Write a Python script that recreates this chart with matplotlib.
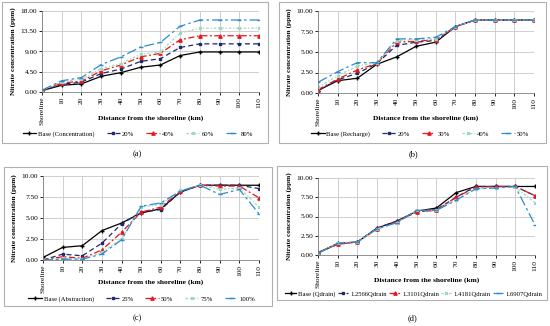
import matplotlib
matplotlib.use('Agg')
import matplotlib.pyplot as plt
from matplotlib.patches import Rectangle
from matplotlib.ticker import FormatStrFormatter

plt.rcParams['font.family'] = ['Liberation Serif', 'DejaVu Serif']

ticks = ['Shoreline', '10', '20', '30', '40', '50', '60', '70', '80', '90', '100', '110']

# (a) concentration
a_labels = ['Base (Concentration)', '20%', '40%', '60%', '80%']
a_base = [0.3, 1.5, 1.8, 3.5, 4.3, 5.5, 6.0, 8.1, 8.9, 8.9, 8.9, 8.9]
a_20 = [0.3, 1.7, 2.2, 4.1, 5.1, 6.8, 7.4, 9.9, 10.7, 10.7, 10.7, 10.7]
a_40 = [0.3, 2.0, 2.4, 4.7, 6.0, 7.8, 8.6, 11.6, 12.5, 12.5, 12.5, 12.5]
a_60 = [0.4, 2.3, 2.8, 5.2, 6.3, 8.4, 8.9, 13.1, 14.2, 14.2, 14.2, 14.2]
a_80 = [0.4, 2.5, 3.2, 6.1, 7.8, 10.0, 11.0, 14.6, 16.0, 16.0, 16.0, 16.0]

# (b) recharge
b_labels = ['Base (Recharge)', '20%', '30%', '40%', '50%']
b_base = [0.3, 1.5, 1.8, 3.5, 4.4, 5.7, 6.2, 8.1, 8.9, 8.9, 8.9, 8.9]
b_20 = [0.3, 1.6, 2.4, 3.6, 5.8, 6.2, 6.4, 8.1, 8.9, 8.9, 8.9, 8.9]
b_30 = [0.4, 1.7, 2.8, 3.6, 6.2, 6.3, 6.5, 8.1, 8.9, 8.9, 8.9, 8.9]
b_40 = [0.7, 2.1, 3.3, 3.7, 6.4, 6.5, 6.6, 8.1, 8.9, 8.9, 8.9, 8.9]
b_50 = [1.3, 2.6, 3.7, 3.7, 6.6, 6.6, 6.8, 8.1, 8.9, 8.9, 8.9, 8.9]

# (c) abstraction
c_labels = ['Base (Abstraction)', '25%', '50%', '75%', '100%']
c_base = [0.3, 1.5, 1.7, 3.5, 4.4, 5.6, 6.1, 8.1, 8.9, 8.9, 8.9, 8.9]
c_25 = [0.0, 0.7, 0.5, 2.0, 4.3, 5.7, 6.0, 8.1, 8.9, 8.9, 8.9, 8.5]
c_50 = [0.0, 0.4, 0.2, 1.2, 3.3, 5.7, 6.3, 8.2, 8.9, 8.8, 8.8, 7.4]
c_75 = [0.0, 0.2, 0.1, 0.9, 2.5, 6.3, 6.6, 8.3, 8.9, 8.4, 8.6, 6.3]
c_100 = [0.0, 0.1, 0.1, 0.7, 2.4, 6.4, 6.8, 8.2, 8.9, 7.8, 8.4, 5.5]

# (d) drain
d_labels = ['Base (Qdrain)', '1.2566Qdrain', '1.3101Qdrain', '1.4181Qdrain', '1.6907Qdrain']
d_base = [0.3, 1.5, 1.7, 3.5, 4.4, 5.7, 6.1, 8.1, 8.9, 8.9, 8.9, 8.9]
d_1 = [0.3, 1.4, 1.7, 3.5, 4.4, 5.6, 5.9, 7.5, 8.9, 8.9, 8.9, 7.7]
d_2 = [0.3, 1.4, 1.7, 3.4, 4.3, 5.6, 5.8, 7.5, 8.8, 8.9, 8.9, 7.7]
d_3 = [0.2, 1.6, 1.7, 3.4, 4.2, 5.8, 5.8, 7.2, 8.6, 8.7, 8.8, 6.8]
d_4 = [0.2, 1.5, 1.7, 3.4, 4.2, 5.8, 5.8, 7.1, 8.6, 8.7, 8.9, 3.9]

styles = [
    dict(color='black', ls='-', marker='+', ms=2.2, lw=0.9),
    dict(color='#1c2a6b', ls=(0, (4, 2.5)), marker='s', ms=1.8, lw=0.9),
    dict(color='#e8161b', ls=(0, (5, 2, 1.5, 2)), marker='^', ms=2.4, lw=0.9),
    dict(color='#9fd8bf', ls=(0, (2, 1.5, 1, 1.5)), marker='x', ms=2.0, lw=0.9),
    dict(color='#2b8ccf', ls=(0, (8, 2.5, 2, 2.5)), marker='_', ms=2.5, lw=0.9),
]

W, H = 550, 326
fig = plt.figure(figsize=(W / 100, H / 100), dpi=100)


def px_axes(l, r, t, b):
    return fig.add_axes([l / W, 1 - b / H, (r - l) / W, (b - t) / H])


def box(l, r, t, b):
    fig.patches.append(Rectangle((l / W, 1 - b / H), (r - l) / W, (b - t) / H,
                                 transform=fig.transFigure, fill=False,
                                 edgecolor='#b0b0b0', lw=0.8))


def panel(pos, series, labels, ymax, yticks, xlab_y, leg_xy, caption_xy, colsp, hl):
    ax = px_axes(*pos)
    x = list(range(len(ticks)))
    for s, lab, st in zip(series, labels, styles):
        ax.plot(x, s, label=lab, **st)
    ax.set_xlim(0, len(ticks) - 1)
    ax.set_ylim(0, ymax)
    ax.set_xticks(x)
    ax.set_xticklabels(ticks, rotation=90, fontsize=5.3)
    ax.set_yticks(yticks)
    ax.yaxis.set_major_formatter(FormatStrFormatter('%.2f'))
    ax.tick_params(axis='y', labelsize=5.3, length=2, width=0.6, pad=1.5)
    ax.tick_params(axis='x', length=2, width=0.6, pad=1.5)
    ax.grid(True, color='#c8c8c8', lw=0.6)
    for sp in ['top', 'right']:
        ax.spines[sp].set_visible(False)
    for sp in ['left', 'bottom']:
        ax.spines[sp].set_color('#808080')
        ax.spines[sp].set_linewidth(0.6)
    cx = (pos[0] + pos[1]) / 2
    fig.text(cx / W, 1 - xlab_y / H, 'Distance from the shoreline (km)',
             fontsize=5.4, fontweight='bold', ha='center', va='center')
    ax.set_ylabel('Nitrate concentration (ppm)', fontsize=5.2,
                  fontweight='bold', labelpad=3)
    fig.legend(*ax.get_legend_handles_labels(), loc='center',
               bbox_to_anchor=(leg_xy[0] / W, 1 - leg_xy[1] / H), ncol=5,
               frameon=False, fontsize=4.8, handlelength=hl,
               columnspacing=colsp, handletextpad=0.3, borderaxespad=0,
               borderpad=0)
    fig.text(caption_xy[0] / W, 1 - caption_xy[1] / H, caption_xy[2],
             fontsize=6, ha='center', va='center')
    return ax


box(2, 268, 2, 143)
box(279, 546, 2, 143)
box(4, 272, 167, 306)
box(277, 547, 166, 300)

panel((42, 259, 11, 92), [a_base, a_20, a_40, a_60, a_80], a_labels, 18,
      [0, 4.5, 9, 13.5, 18], 118, (138, 134), (137, 154, '(a)'), 1.8, 2.0)
panel((318, 534, 11, 93), [b_base, b_20, b_30, b_40, b_50], b_labels, 10,
      [0, 2.5, 5, 7.5, 10], 118, (420, 134), (413, 154, '(b)'), 1.8, 2.0)
panel((43, 259, 176, 260), [c_base, c_25, c_50, c_75, c_100], c_labels, 10,
      [0, 2.5, 5, 7.5, 10], 282, (142, 299), (137, 318, '(c)'), 1.8, 2.0)
panel((318, 535, 178, 255), [d_base, d_1, d_2, d_3, d_4], d_labels, 10,
      [0, 2.5, 5, 7.5, 10], 280, (414, 294), (412, 318, '(d)'), 0.35, 1.6)

fig.savefig('out.png', dpi=100)
